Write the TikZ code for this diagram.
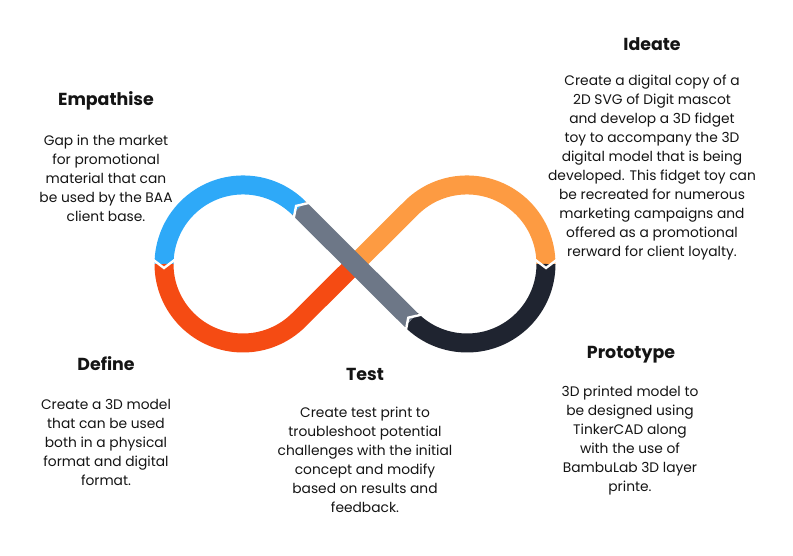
\documentclass[tikz,border=0pt]{standalone}
\usepackage{fontspec}
\setmainfont{Poppins}
\definecolor{cblue}{HTML}{2EA9F8}
\definecolor{cred}{HTML}{F54B13}
\definecolor{corange}{HTML}{FD9B42}
\definecolor{cdark}{HTML}{1F2430}
\definecolor{cgray}{HTML}{6D7787}
\definecolor{ctext}{HTML}{141414}
\begin{document}
\begin{tikzpicture}[x=1pt,y=1pt,
  band/.style={line width=19pt},
  chev/.style={draw=white,line width=2.4pt,line join=miter,line cap=rect},
  ttl/.style={font=\fontsize{17.4}{20}\selectfont\bfseries, text=ctext, inner sep=0},
  body/.style={font=\fontsize{13.8}{19}\selectfont, text=ctext, align=center, inner sep=0}]
\useasboundingbox (0,0) rectangle (793,556);
\coordinate (L) at (243,292);
\coordinate (R) at (467,292);
\coordinate (C) at (355,292);
\coordinate (Cx) at (358,295);
\coordinate (A) at (298.9,347.9);
\coordinate (Ll) at (164,292);
\coordinate (B) at (411.1,347.9);
\coordinate (Rr) at (546,292);
\coordinate (Rb) at (411.1,236.1);
% bands
\draw[band,cblue] (A) arc[start angle=45,end angle=180,radius=79];
\draw[band,cred] (Ll) arc[start angle=180,end angle=315,radius=79] -- (Cx);
\draw[band,corange] (C) -- (B) arc[start angle=135,end angle=0,radius=79];
\draw[band,cdark] (Rr) arc[start angle=0,end angle=-135,radius=79];
\draw[band,cgray] (Rb) -- (A);
% chevron joins
\draw[chev] (153.5,296) -- (164,288) -- (174.5,296);
\draw[chev] (535.5,296) -- (546,288) -- (556.5,296);
\draw[chev] (421.3,241.3) -- (408.3,238.3) -- (405.9,225.9);
\draw[chev] (309.1,353.1) -- (296.1,350.1) -- (293.7,337.7);
% texts
\node[ttl] (t1) at (106,455) {Empathise};
\node[body] (b1) at (106,378) {Gap in the market\\for promotional\\material that can\\be used by the BAA\\client base.};
\node[ttl] (t2) at (652,512) {Ideate};
\node[body] (b2) at (652,388.5) {Create a digital copy of a\\2D SVG of Digit mascot\\and develop a 3D fidget\\toy to accompany the 3D\\digital model that is being\\developed. This fidget toy can\\be recreated for numerous\\marketing campaigns and\\offered as a promotional\\rerward for client loyalty.};
\node[ttl] (t3) at (106,192) {Define};
\node[body] (b3) at (106,114) {Create a 3D model\\that can be used\\both in a physical\\format and digital\\format.};
\node[ttl] (t4) at (365,182) {Test};
\node[body] (b4) at (365,96) {Create test print to\\troubleshoot potential\\challenges with the initial\\concept and modify\\based on results and\\feedback.};
\node[ttl] (t5) at (631,201) {Prototype};
\node[body] (b5) at (630,115.5) {3D printed model to\\be designed using\\TinkerCAD along\\with the use of\\BambuLab 3D layer\\printe.};
\end{tikzpicture}
\end{document}
